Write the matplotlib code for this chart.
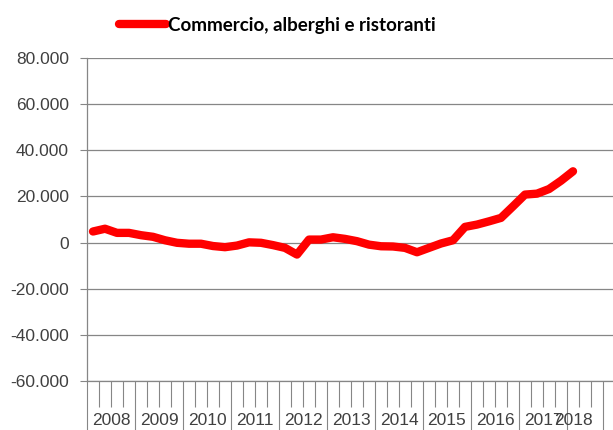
import numpy as np
import matplotlib
matplotlib.use("Agg")
import matplotlib.pyplot as plt
from matplotlib.ticker import FixedLocator, FuncFormatter

# Data: quarterly values, 2008Q1 .. 2018Q1
series_name = "Commercio, alberghi e ristoranti"
years = [2008, 2009, 2010, 2011, 2012, 2013, 2014, 2015, 2016, 2017, 2018]
quarters_per_year = [4, 4, 4, 4, 4, 4, 4, 4, 4, 4, 3]
values = [4800, 6000, 4200, 4200, 3200, 2500, 1000, -100,
          -500, -500, -1500, -2000, -1300, 100, -100, -1100,
          -2300, -5200, 1300, 1300, 2300, 1600, 600, -900,
          -1600, -1700, -2300, -4200, -2300, -400, 1000, 6800,
          7800, 9200, 10700, 15700, 20800, 21200, 23200, 26800,
          30900]
y_ticks = [-60000, -40000, -20000, 0, 20000, 40000, 60000, 80000]

grid_col = "#868686"
text_col = "#404040"
plt.rcParams['font.family'] = ['Liberation Sans', 'DejaVu Sans']

fig = plt.figure(figsize=(6.13, 4.30), dpi=100)
ax = fig.add_axes([87 / 613, 49 / 430, 528 / 613, 323 / 430])

x = np.arange(len(values))
ax.plot(x, values, color="#ff0000", lw=6, solid_capstyle="round",
        solid_joinstyle="round", label=series_name)

n_cat = sum(quarters_per_year)
ax.set_xlim(-0.5, n_cat + 0.5)
ax.set_ylim(y_ticks[0], y_ticks[-1])

# y axis
ax.set_yticks(y_ticks)
ax.yaxis.set_major_formatter(FuncFormatter(
    lambda v, p: f"{v:,.0f}".replace(",", ".")))
ax.tick_params(axis="y", length=5, width=0.8, color=grid_col,
               labelsize=12.5, labelcolor=text_col, pad=8)
ax.grid(axis="y", color=grid_col, lw=0.9)
ax.set_axisbelow(True)

# x axis: long ticks at year boundaries, short ticks at quarter boundaries
bounds = np.concatenate([[0], np.cumsum(quarters_per_year)]) - 0.5
ax.xaxis.set_major_locator(FixedLocator(bounds))
ax.xaxis.set_minor_locator(FixedLocator(np.arange(n_cat) - 0.5))
ax.tick_params(axis="x", which="major", length=36, width=0.8,
               color=grid_col, labelbottom=False)
ax.tick_params(axis="x", which="minor", length=19, width=0.8,
               color=grid_col)
trans = ax.get_xaxis_transform()
for i, yr in enumerate(years):
    q = [k for k in range(int(bounds[i] + 0.5), int(bounds[i + 1] + 0.5))
         if k < len(values)]
    ax.text(np.mean(q), -0.121, str(yr), transform=trans, ha="center",
            va="center", fontsize=12.5, color=text_col)

for s in ["top", "right"]:
    ax.spines[s].set_visible(False)
for s in ["left", "bottom"]:
    ax.spines[s].set_color(grid_col)
    ax.spines[s].set_linewidth(0.9)

leg = ax.legend(loc="center", bbox_to_anchor=(277 / 613, 405 / 430),
                bbox_transform=fig.transFigure, frameon=False,
                handlelength=2.5, handletextpad=0.1,
                prop={"family": "Lato", "weight": "bold", "size": 13.5})

fig.savefig("out.png", dpi=100)
